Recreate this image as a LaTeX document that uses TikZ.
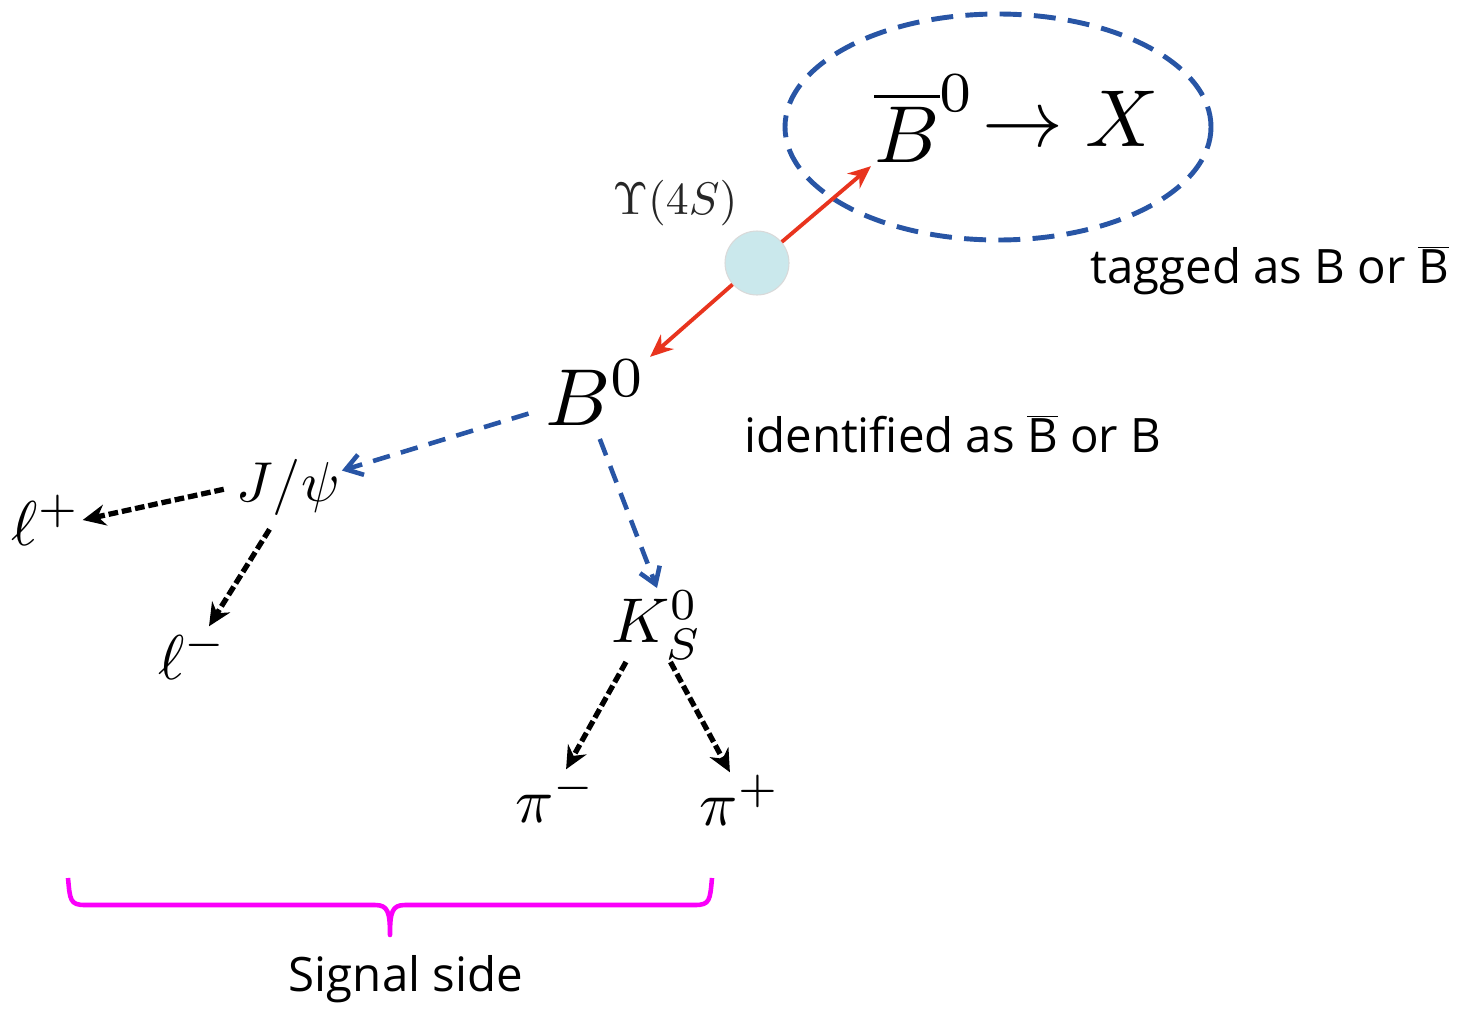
\documentclass[tikz,border=0pt]{standalone}
\usepackage{fontspec}
\setsansfont{Open Sans}
\usetikzlibrary{arrows.meta}

\definecolor{tagblue}{RGB}{40,85,165}
\definecolor{decayred}{RGB}{232,52,30}
\definecolor{upscyan}{RGB}{202,232,236}
\definecolor{bracemag}{RGB}{250,0,250}

\newcommand{\barB}{\ensuremath{\overline{\hbox{B}}}}

\tikzset{
  bigmath/.style={inner sep=0.2pt, scale=4.6},
  lowmath/.style={inner sep=0.2pt, scale=3.6},
  sidetext/.style={inner sep=0pt, font=\sffamily\fontsize{27}{32}\selectfont},
  reddecay/.style={decayred, line width=2.2pt, -{Stealth[length=13pt,width=11pt]}},
  bluedecay/.style={tagblue, line width=2.6pt, dash pattern=on 10pt off 6.5pt,
    -{Straight Barb[length=9pt,width=12pt,line width=2.6pt]}},
  blackdecay/.style={black, line width=3pt, dash pattern=on 5.5pt off 2.2pt,
    -{Stealth[length=13pt,width=12pt]}}
}

\begin{document}
\begin{tikzpicture}[x=0.02cm, y=-0.02cm]
  \useasboundingbox (0,0) rectangle (1470,1008);

  % Tag side
  \draw[tagblue, line width=2.8pt, dash pattern=on 12.5pt off 7pt]
    (998,127) ellipse (213 and 113);
  \node[bigmath] (bbar) at (925,119) {$\overline{B}^0$};
  \node[bigmath, anchor=west] (tagx) at (bbar.east) {$\rightarrow X$};
  \node[sidetext, anchor=west] (tagtext) at (1090,271) {tagged as B or \barB};

  % Upsilon(4S) at rest
  \node[circle, fill=upscyan, draw=black!15, line width=0.6pt,
    minimum size=64*0.02cm, inner sep=0pt] (ups) at (757,263) {};
  \node[inner sep=0pt, black!85, scale=2.6] (upslabel)
    at (675,203) {$\Upsilon(4S)$};

  % Signal side
  \node[bigmath] (bzero) at (596,393) {$B^0$};
  \node[sidetext, anchor=west] (sigtext) at (744,434) {identified as \barB{} or B};
  \node[lowmath, scale=3.2/3.6] (jpsi) at (288,487) {$J/\psi$};
  \node[lowmath] (lplus) at (46,520) {$\ell^+$};
  \node[lowmath] (lminus) at (193,654) {$\ell^-$};
  \node[lowmath] (kshort) at (657,625) {$K_S^0$};
  \node[lowmath] (piminus) at (556,797) {$\pi^-$};
  \node[lowmath] (piplus) at (740,800) {$\pi^+$};

  \draw[reddecay] (ups) -- (bbar.south west);
  \draw[reddecay] (ups) -- (bzero.north east);
  \draw[bluedecay, shorten <=8pt] (bzero) -- (jpsi);
  \draw[bluedecay, shorten <=6pt] (bzero.south) -- (kshort.north);
  \draw[blackdecay, shorten <=6pt] (jpsi.west) -- (lplus.east);
  \draw[blackdecay, shorten <=8pt] (jpsi.-110) -- (lminus.60);
  \draw[blackdecay] (kshort.-130) -- (piminus.70);
  \draw[blackdecay] (kshort.-70) -- (piplus.110);

  % Brace below the signal side
  \coordinate (brl) at (68,878);
  \coordinate (brr) at (712,878);
  \coordinate (brtip) at (390,935);
  \draw[bracemag, line width=2.6pt, line join=round]
    (brl) .. controls (70,900) and (70,905) .. (85,905) -- (375,905)
    .. controls (388,905) and (390,912) .. (brtip)
    .. controls (390,912) and (392,905) .. (405,905) -- (695,905)
    .. controls (710,905) and (710,900) .. (brr);
  \node[sidetext] (sidelabel) at (406,979) {Signal side};
\end{tikzpicture}
\end{document}
